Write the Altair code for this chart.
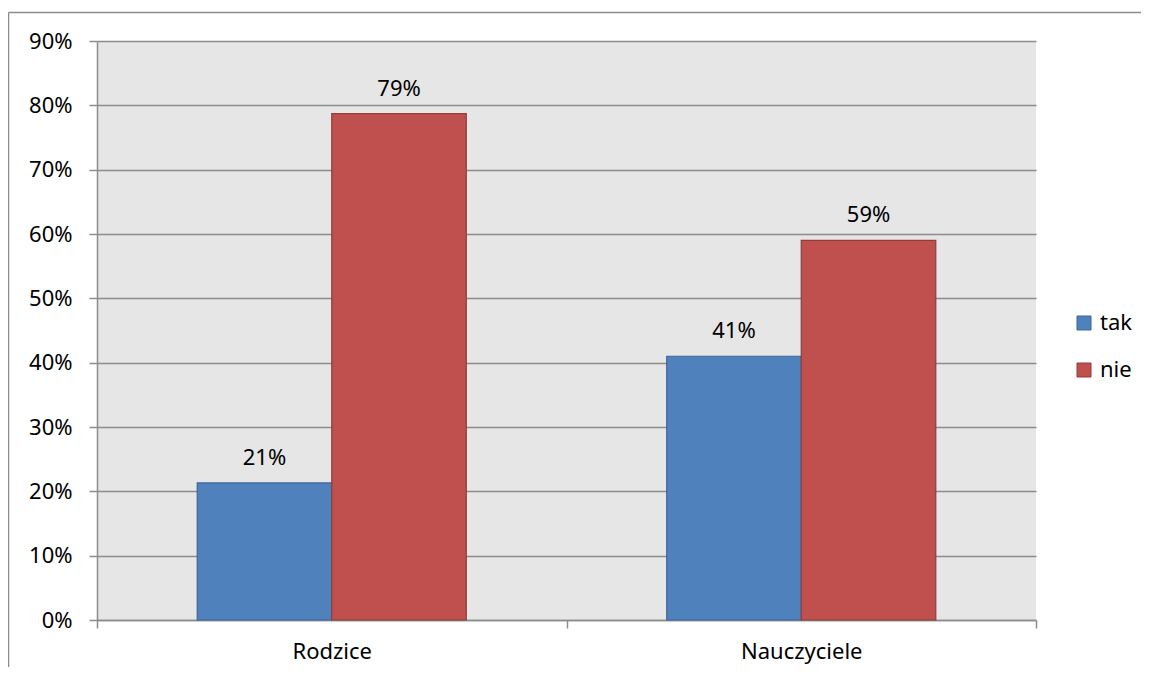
import altair as alt
import pandas as pd

categories = ["Rodzice", "Nauczyciele"]
series = ["tak", "nie"]
tak_values = [0.213, 0.41]
nie_values = [0.787, 0.59]
y_ticks = [0, 0.1, 0.2, 0.3, 0.4, 0.5, 0.6, 0.7, 0.8, 0.9]
fill_colors = ["#4f81bd", "#c0504d"]
stroke_colors = ["#3b679c", "#8f3c3a"]

rows = []
for i, c in enumerate(categories):
    rows.append({"group": c, "series": "tak", "value": tak_values[i]})
    rows.append({"group": c, "series": "nie", "value": nie_values[i]})
df = pd.DataFrame(rows)

W, H = 939, 579
FONT = "Noto Sans"
FS = 22
GRAY = "#8c8c8c"

legend = alt.Legend(
    title=None, orient="none", legendX=976, legendY=271,
    symbolType="square", symbolSize=196, symbolStrokeWidth=1,
    labelFontSize=FS, labelFont=FONT, labelColor="#000000",
    labelOffset=5, rowPadding=25,
)

base = alt.Chart(df).encode(
    x=alt.X(
        "group:N", sort=categories, title=None,
        scale=alt.Scale(paddingInner=0, paddingOuter=0),
        axis=alt.Axis(
            labelAngle=0, tickBand="extent", domainColor=GRAY, domainWidth=1.5,
            tickColor=GRAY, tickWidth=1.5, tickSize=8, labelFontSize=FS,
            labelFont=FONT, labelColor="#000000", labelPadding=13, grid=False,
        ),
    ),
    xOffset=alt.XOffset(
        "series:N", sort=series,
        scale=alt.Scale(domain=series, paddingOuter=0.745, paddingInner=0),
    ),
)

bars = base.mark_bar(strokeWidth=1.2).encode(
    y=alt.Y(
        "value:Q", title=None,
        scale=alt.Scale(domain=[0, 0.9], nice=False),
        axis=alt.Axis(
            values=y_ticks, format=".0%", grid=True, gridColor=GRAY, gridWidth=1.5,
            domainColor=GRAY, domainWidth=1.5, tickColor=GRAY, tickWidth=1.5,
            tickSize=8, labelFontSize=FS, labelFont=FONT, labelColor="#000000",
            labelPadding=17,
        ),
    ),
    color=alt.Color("series:N", sort=series,
                    scale=alt.Scale(domain=series, range=fill_colors), legend=legend),
    stroke=alt.Stroke("series:N", sort=series,
                      scale=alt.Scale(domain=series, range=stroke_colors), legend=legend),
)

labels = base.mark_text(dy=-18, baseline="alphabetic", fontSize=FS, font=FONT,
                        color="#000000").encode(
    y=alt.Y("value:Q"),
    text=alt.Text("value:Q", format=".0%"),
)

frame_data = alt.Data(values=[{"k": 1}])
left_border = alt.Chart(frame_data).mark_rule(color=GRAY, strokeWidth=1.5).encode(
    x=alt.value(-88.5), y=alt.value(-28.5), y2=alt.value(H + 80)
)
top_border = alt.Chart(frame_data).mark_rule(color=GRAY, strokeWidth=1.5).encode(
    x=alt.value(-88.5), x2=alt.value(1070), y=alt.value(-28.5)
)

chart = alt.layer(bars, labels, left_border, top_border).properties(
    width=W, height=H,
    padding={"left": 89, "top": 33, "right": 105, "bottom": 47},
    autosize=alt.AutoSizeParams(type="none"),
    background="#ffffff",
).configure_view(fill="#e6e6e6", strokeWidth=0)

chart.save("out.html", embed_options={"renderer": "svg", "actions": False})
